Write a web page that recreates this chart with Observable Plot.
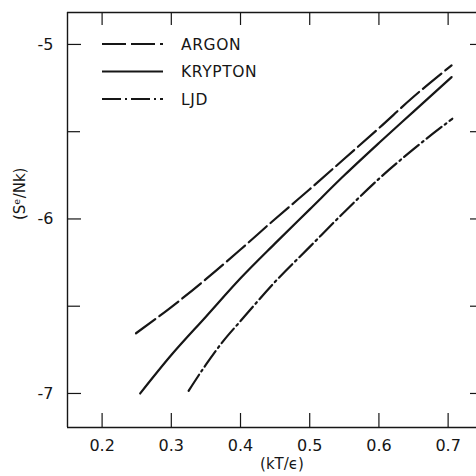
<!DOCTYPE html>
<html><head><meta charset="utf-8">
<script src="https://cdn.jsdelivr.net/npm/d3@7"></script>
<script src="https://cdn.jsdelivr.net/npm/@observablehq/plot@0.6"></script>
<style>
body{margin:0;background:#fff;overflow:hidden}
#chart{width:476px;height:476px}
</style>
</head><body><div id="chart"></div>
<script>
// ---- data ----
const argonX = [0.249, 0.300, 0.350, 0.400, 0.450, 0.500, 0.550, 0.600, 0.650, 0.705];
const argonY = [-6.655, -6.505, -6.345, -6.175, -6.000, -5.830, -5.655, -5.480, -5.300, -5.120];
const kryptonX = [0.255, 0.300, 0.350, 0.400, 0.450, 0.500, 0.550, 0.600, 0.650, 0.705];
const kryptonY = [-7.000, -6.780, -6.560, -6.340, -6.140, -5.945, -5.750, -5.565, -5.385, -5.187];
const ljdX = [0.325, 0.350, 0.375, 0.400, 0.450, 0.500, 0.550, 0.600, 0.650, 0.706];
const ljdY = [-6.985, -6.835, -6.700, -6.585, -6.360, -6.160, -5.960, -5.770, -5.600, -5.426];

const seriesNames = ["ARGON", "KRYPTON", "LJD"];
const xTicks = [0.2, 0.3, 0.4, 0.5, 0.6, 0.7];
const xTickLabels = ["0.2", "0.3", "0.4", "0.5", "0.6", "0.7"];
const yMajorTicks = [-5, -6, -7];
const yMinorTicks = [-5.5, -6.5];
const yTickLabels = ["-5", "-6", "-7"];
const xDomain = [0.15, 0.741];
const yDomain = [-7.195, -4.817];
const xLabel = "(kT/\u03F5)";
const yLabel = "(S\u1D49/Nk)";

// ---- styling ----
const W = 476, H = 476, mL = 67, mT = 12, mR = 0, mB = 49;
const pw = W - mL - mR, ph = H - mT - mB;
const ink = "#161616";
const font = "DejaVu Sans";
const dashes = ["24,5", null, "19,4,2,4"];

const mk = (xs, ys, name) => xs.map((x, i) => ({x, y: ys[i], name}));
const series = [mk(argonX, argonY, seriesNames[0]), mk(kryptonX, kryptonY, seriesNames[1]), mk(ljdX, ljdY, seriesNames[2])];

function legend() {
  const g = d3.create("svg:g");
  seriesNames.forEach((n, i) => {
    const y = mT + 32 + i * 27.5;
    const l = g.append("line").attr("x1", mL + 35).attr("x2", mL + 96).attr("y1", y).attr("y2", y)
      .attr("stroke", ink).attr("stroke-width", 2.2);
    if (dashes[i]) l.attr("stroke-dasharray", dashes[i]);
    g.append("text").attr("x", mL + 114).attr("y", y).attr("dy", "0.36em")
      .attr("text-anchor", "start")
      .attr("font-size", 15.5).attr("font-family", font).attr("fill", ink).attr("letter-spacing", 0.6)
      .text(n);
  });
  return g.node();
}

const plot = Plot.plot({
  width: W, height: H,
  marginLeft: mL, marginTop: mT, marginRight: mR, marginBottom: mB,
  style: {fontFamily: font, background: "#fff", color: ink, overflow: "visible"},
  x: {domain: xDomain, axis: null},
  y: {domain: yDomain, axis: null},
  marks: [
    // frame (left, top, bottom)
    Plot.ruleX([xDomain[0]], {stroke: ink, strokeWidth: 1.4}),
    Plot.ruleY([yDomain[1]], {stroke: ink, strokeWidth: 1.4}),
    Plot.ruleY([yDomain[0]], {stroke: ink, strokeWidth: 1.4}),
    // inward ticks
    Plot.tickX(xTicks, {x: d => d, insetTop: ph - 14, stroke: ink, strokeWidth: 1.2}),
    Plot.tickX(xTicks, {x: d => d, insetBottom: ph - 13, stroke: ink, strokeWidth: 1.2}),
    Plot.tickY(yMajorTicks, {y: d => d, insetRight: pw - 14, stroke: ink, strokeWidth: 1.2}),
    Plot.tickY(yMinorTicks, {y: d => d, insetRight: pw - 13, stroke: ink, strokeWidth: 1.2}),
    Plot.tickY(yMajorTicks.concat(yMinorTicks), {y: d => d, insetLeft: pw - 6, stroke: ink, strokeWidth: 1.2}),
    // tick labels
    Plot.text(xTicks, {x: d => d, text: (d, i) => xTickLabels[i], frameAnchor: "bottom", lineAnchor: "top", dy: 12,
      fontSize: 16, fill: ink, style: {letterSpacing: "1px"}}),
    Plot.text(yMajorTicks, {y: d => d, text: (d, i) => yTickLabels[i], frameAnchor: "left", textAnchor: "end", dx: -14,
      fontSize: 16, fill: ink}),
    // axis labels
    Plot.text([xLabel], {text: d => d, frameAnchor: "bottom", dy: 41, dx: 10, fontSize: 15, fill: ink}),
    Plot.text([yLabel], {text: d => d, frameAnchor: "left", dx: -47, rotate: -90, fontSize: 15, fill: ink}),
    // curves
    ...series.map((s, i) => Plot.line(s, {x: "x", y: "y", stroke: ink, strokeWidth: 2.2, curve: "monotone-x",
      strokeDasharray: dashes[i] || undefined})),
    legend
  ]
});
document.getElementById("chart").append(plot);
</script>
</body></html>
